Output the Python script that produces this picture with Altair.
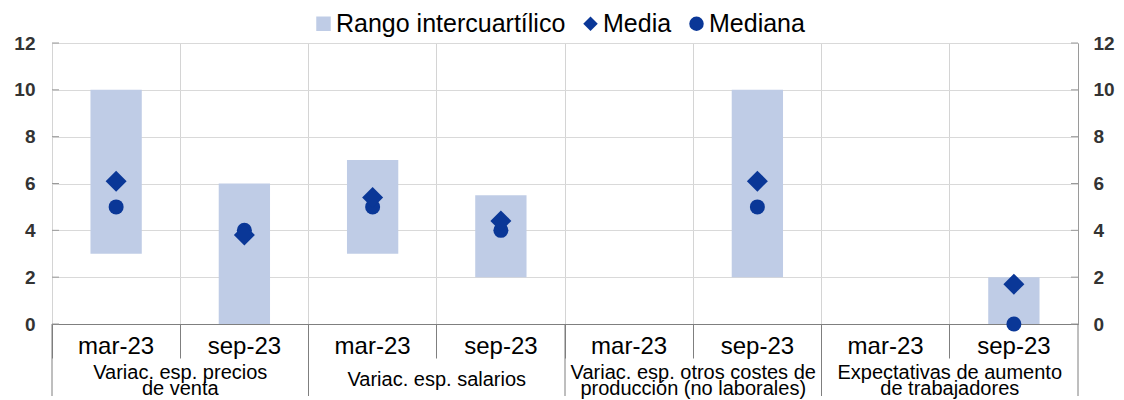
import altair as alt
import pandas as pd

grupos = [
    "Variac. esp. precios\nde venta",
    "Variac. esp. salarios",
    "Variac. esp. otros costes de\nproducción  (no laborales)",
    "Expectativas de aumento\nde trabajadores",
]
periodos = ["mar-23", "sep-23"]
p25 = [3, 0, 3, 2, None, 2, None, 0]
p75 = [10, 6, 7, 5.5, None, 10, None, 2]
media = [6.1, 3.8, 5.4, 4.4, None, 6.1, None, 1.7]
mediana = [5, 4, 5, 4, None, 5, None, 0]
series = ["Rango intercuartílico", "Media", "Mediana"]
y_ticks = [0, 2, 4, 6, 8, 10, 12]

keys = [f"g{i}|{p}" for i in range(len(grupos)) for p in periodos]
df = pd.DataFrame({"key": keys, "p25": p25, "p75": p75, "media": media, "mediana": mediana})
df_grp = pd.DataFrame({"key": [f"g{i}|{periodos[0]}" for i in range(len(grupos))], "grupo": grupos})
df_start = pd.DataFrame({"key": [f"g{i}|{periodos[0]}" for i in range(len(grupos))]})
df_end = pd.DataFrame({"key": [keys[-1]]})
df_yt = pd.DataFrame({"v": y_ticks})

W, H = 1026, 281
FONT = "Liberation Sans"
BLUE = "#0a3797"
LIGHT = "#bfcce6"
AXC = "#9a9a9a"

x_axis = alt.Axis(
    title=None, bandPosition=0, grid=True, gridColor="#d4d4d4",
    domain=True, domainColor="#7f7f7f", ticks=True, tickSize=34, tickColor="#7f7f7f",
    labelExpr="split(datum.value, '|')[1]", labelFontSize=24, labelColor="#000",
    labelPadding=-24, labelAngle=0, labelFont=FONT,
)
x_scale = alt.Scale(domain=keys, paddingInner=0, paddingOuter=0)


def X(**kw):
    return alt.X("key:N", scale=x_scale, axis=x_axis, **kw)


y_scale = alt.Scale(domain=[0, 12], nice=False)
left_axis = alt.Axis(
    title=None, orient="left", values=y_ticks, grid=True, gridColor="#d9d9d9",
    domain=False, ticks=False, labelPadding=17, labelFontWeight="bold",
    labelFontSize=19, labelColor="#333", labelFont=FONT,
)
right_axis = alt.Axis(
    title=None, orient="right", values=y_ticks, grid=False, domain=True,
    domainColor=AXC, ticks=False, labelPadding=15,
    labelFontWeight="bold", labelFontSize=19, labelColor="#333", labelFont=FONT,
)

legend = alt.Legend(
    title=None, orient="none", direction="horizontal", legendX=259, legendY=-32,
    labelFontSize=25, labelFont=FONT, labelColor="#000", symbolSize=210,
    symbolStrokeWidth=0, columnPadding=12, labelOffset=0, labelLimit=0,
    labelExpr="datum.label == 'Mediana' ? '   ' + datum.label : datum.label",
)
color_scale = alt.Scale(domain=series, range=[LIGHT, BLUE, BLUE])
shape_scale = alt.Scale(domain=series, range=["square", "diamond", "circle"])

base = alt.Chart(df)

bars = base.transform_calculate(serie="'Rango intercuartílico'").mark_bar(
    width={"band": 0.4}
).encode(
    x=X(),
    y=alt.Y("p25:Q", scale=y_scale, axis=left_axis),
    y2="p75:Q",
    color=alt.Color("serie:N", scale=color_scale, legend=legend),
)

med = base.transform_calculate(serie="'Mediana'").mark_point(
    filled=True, size=225, opacity=1
).encode(
    x=X(),
    y=alt.Y("mediana:Q", scale=y_scale, axis=None),
    color=alt.Color("serie:N", scale=color_scale, legend=legend),
    shape=alt.Shape("serie:N", scale=shape_scale, legend=legend),
)

mean = base.transform_calculate(serie="'Media'").mark_point(
    filled=True, size=441, opacity=1
).encode(
    x=X(),
    y=alt.Y("media:Q", scale=y_scale, axis=right_axis),
    color=alt.Color("serie:N", scale=color_scale, legend=legend),
    shape=alt.Shape("serie:N", scale=shape_scale, legend=legend),
)

# small inward ticks on both value axes
ticks_left = alt.Chart(df_yt).mark_rule(color=AXC, strokeWidth=1).encode(
    y=alt.Y("v:Q", scale=y_scale, axis=None), x=alt.value(0), x2=alt.value(7)
)
ticks_right = alt.Chart(df_yt).mark_rule(color=AXC, strokeWidth=1).encode(
    y=alt.Y("v:Q", scale=y_scale, axis=None), x=alt.value(W - 7), x2=alt.value(W)
)

rules_start = alt.Chart(df_start).mark_rule(color="#7f7f7f", strokeWidth=1).encode(
    x=X(bandPosition=0), y=alt.value(H), y2=alt.value(H + 72)
)
rules_end = alt.Chart(df_end).mark_rule(color="#7f7f7f", strokeWidth=1).encode(
    x=X(bandPosition=1), y=alt.value(H), y2=alt.value(H + 72)
)

text_props = dict(font=FONT, fontSize=20, color="#000", baseline="middle",
                  align="center", lineHeight=16)

grp_multi = alt.Chart(df_grp).transform_filter(
    "indexof(datum.grupo, '\\n') >= 0"
).transform_calculate(
    lab="split(datum.grupo, '\\n')"
).mark_text(**text_props).encode(
    x=X(bandPosition=1), y=alt.value(H + 49), text="lab:N"
)

grp_single = alt.Chart(df_grp).transform_filter(
    "indexof(datum.grupo, '\\n') < 0"
).mark_text(**text_props).encode(
    x=X(bandPosition=1), y=alt.value(H + 56), text="grupo:N"
)

chart = alt.layer(
    bars, ticks_left, ticks_right, med, mean, rules_start, rules_end, grp_multi, grp_single
).resolve_axis(
    y="independent"
).properties(
    width=W, height=H, autosize=alt.AutoSizeParams(type="none"),
    padding={"left": 44, "top": 35, "right": 38, "bottom": 76},
).configure_view(stroke=None).configure(font=FONT)

chart.save("out.html", embed_options={"renderer": "svg", "actions": False})
